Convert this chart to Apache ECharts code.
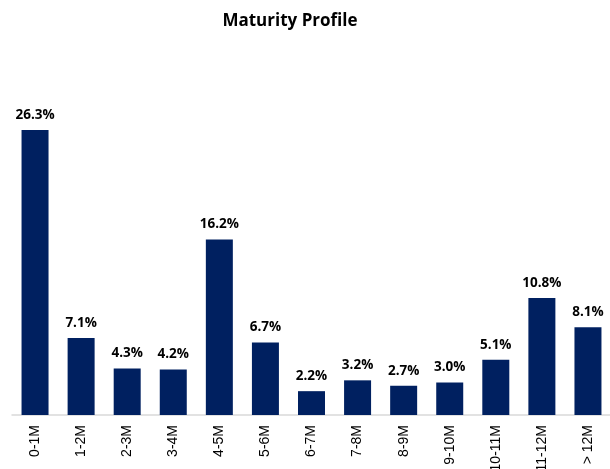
<!DOCTYPE html>
<html>
<head>
<meta charset="utf-8">
<script src="https://cdn.jsdelivr.net/npm/echarts@6/dist/echarts.min.js"></script>
<style>
html, body { margin: 0; padding: 0; background: #fff; }
#main { width: 610px; height: 469px; }
</style>
</head>
<body>
<div id="main"></div>
<script>
var categories = ['0-1M', '1-2M', '2-3M', '3-4M', '4-5M', '5-6M', '6-7M', '7-8M', '8-9M', '9-10M', '10-11M', '11-12M', '> 12M'];
var shares = [26.3, 7.1, 4.3, 4.2, 16.2, 6.7, 2.2, 3.2, 2.7, 3.0, 5.1, 10.8, 8.1];

var chart = echarts.init(document.getElementById('main'));
var option = {
	animation: false,
	title: {
		text: 'Maturity Profile',
		left: 285,
		textAlign: 'center',
		top: 8,
		textStyle: {
			fontFamily: 'Open Sans',
			fontWeight: 'bold',
			fontSize: 17,
			color: '#000'
		}
	},
	grid: {
		left: 12,
		right: -1,
		top: 90,
		bottom: 54,
		containLabel: false,
		outerBoundsMode: 'none'
	},
	xAxis: {
		type: 'category',
		data: categories,
		axisLine: { lineStyle: { color: '#d9d9d9', width: 1.5 } },
		axisTick: { show: false },
		axisLabel: {
			rotate: 90,
			interval: 0,
			margin: 10,
			fontFamily: 'Liberation Sans',
			fontSize: 14,
			color: '#000'
		}
	},
	yAxis: {
		type: 'value',
		min: 0,
		max: 30,
		show: false
	},
	series: [{
		type: 'bar',
		data: shares,
		barWidth: 27,
		itemStyle: { color: '#002060' },
		label: {
			show: true,
			position: 'top',
			distance: 8,
			formatter: function (p) { return p.value.toFixed(1) + '%'; },
			fontFamily: 'Open Sans',
			fontWeight: 'bold',
			fontSize: 13.5,
			color: '#000'
		}
	}]
};
chart.setOption(option);
</script>
</body>
</html>
